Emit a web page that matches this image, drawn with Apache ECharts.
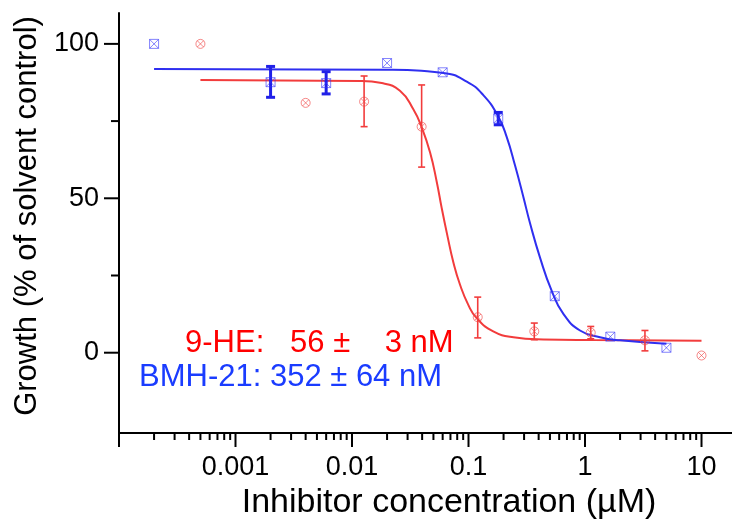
<!DOCTYPE html>
<html><head><meta charset="utf-8">
<script src="https://cdn.jsdelivr.net/npm/echarts@6/dist/echarts.min.js"></script>
<style>html,body{margin:0;padding:0;background:#fff}#c{width:732px;height:527px}</style>
</head><body><div id="c"></div>
<script>
// ---- data (concentration in µM, growth in % of solvent control) ----
const blueX = [0.0002, 0.002, 0.006, 0.02, 0.06, 0.18, 0.55, 1.65, 5];
const blueY = [100, 87.6, 87.3, 93.8, 90.8, 75.8, 18.3, 5.2, 1.6];
const blueErrX = [0.002, 0.006, 0.18];
const blueErrLo = [82.7, 83.8, 73.8];
const blueErrHi = [92.7, 91.0, 77.8];

const redX = [0.0005, 0.004, 0.0127, 0.0396, 0.12, 0.367, 1.12, 3.27, 10];
const redY = [100, 80.9, 81.3, 73.2, 11.5, 6.9, 6.5, 4.0, -0.9];
const redErrX = [0.0127, 0.0396, 0.12, 0.367, 1.12, 3.27];
const redErrLo = [73.2, 60.1, 4.8, 4.2, 4.5, 0.6];
const redErrHi = [89.6, 86.7, 18.0, 9.6, 8.5, 7.2];

// fitted curves
const blueFitX = [0.0002, 0.0199, 0.0608, 0.0966, 0.134, 0.180, 0.213, 0.251, 0.295, 0.337, 0.411, 0.518, 0.652, 0.906, 1.345, 1.995, 5.0];
const blueFitY = [91.9, 91.6, 90.6, 87.8, 83.4, 76.5, 69.8, 60.6, 50.6, 42.0, 30.8, 20.0, 12.6, 7.2, 5.0, 4.0, 2.9];
const redFitX = [0.0005, 0.0117, 0.018, 0.0258, 0.0336, 0.0396, 0.0468, 0.0534, 0.0589, 0.0658, 0.0741, 0.0846, 0.0996, 0.1175, 0.163, 0.243, 0.439, 1.17, 10];
const redFitY = [88.3, 88.0, 87.3, 84.8, 78.8, 73.0, 64.8, 55.3, 46.8, 38.0, 29.3, 22.0, 15.5, 11.2, 6.9, 5.0, 4.3, 4.1, 3.9];

// ticks
const xTickLabels = [0.001, 0.01, 0.1, 1, 10];
const xMajorTicks = [0.0001, 0.001, 0.01, 0.1, 1, 10];
const yTickLabels = [0, 50, 100];
const yMinorTicks = [25, 75];
const xMinorTicks = [];
for (let d = -4; d <= 0; d++) for (let k = 2; k <= 9; k++) {
  xMinorTicks.push(parseFloat((k * Math.pow(10, d)).toPrecision(6)));
}

// ---- layout ----
const gL = 119, gR = 0, gT = 13, gB = 94;
const xMin = 0.0001, xMax = 18.27, yMin = -26, yMax = 110;

const FONT = '"Liberation Sans", Arial, Helvetica, sans-serif';
const RED = '#f23c3c', BLUE = '#2f2ff0';
const RED_MK = 'rgba(240,70,70,0.8)', BLUE_MK = 'rgba(50,50,250,0.75)';
const axisCol = '#000';

const pairs = (xs, ys) => xs.map((x, i) => [x, ys[i]]);
const triples = (xs, lo, hi) => xs.map((x, i) => [x, lo[i], hi[i]]);

function errRender(capW, lw, color) {
  return function (params, api) {
    const x = api.value(0);
    const pLo = api.coord([x, api.value(1)]);
    const pHi = api.coord([x, api.value(2)]);
    const st = { stroke: color, lineWidth: lw };
    return { type: 'group', children: [
      { type: 'line', shape: { x1: pLo[0], y1: pLo[1], x2: pHi[0], y2: pHi[1] }, style: st },
      { type: 'line', shape: { x1: pHi[0] - capW / 2, y1: pHi[1], x2: pHi[0] + capW / 2, y2: pHi[1] }, style: st },
      { type: 'line', shape: { x1: pLo[0] - capW / 2, y1: pLo[1], x2: pLo[0] + capW / 2, y2: pLo[1] }, style: st }
    ]};
  };
}

const SQX = 'path://M0,0H10V10H0Z M0,0L10,10 M10,0L0,10';
const CIRX = 'path://M10,5A5,5,0,1,1,0,5A5,5,0,1,1,10,5Z M1.46,1.46L8.54,8.54 M8.54,1.46L1.46,8.54';

const chart = echarts.init(document.getElementById('c'), null, { renderer: 'canvas' });
chart.setOption({
  animation: false,
  grid: { left: gL, right: gR, top: gT, bottom: gB },
  xAxis: {
    type: 'log', logBase: 10, min: xMin, max: xMax,
    axisLine: { show: true, onZero: false, lineStyle: { color: axisCol, width: 2 } },
    axisTick: { show: false },
    axisLabel: { customValues: xTickLabels, formatter: v => String(v), fontSize: 27, color: '#000', fontFamily: FONT, margin: 21 },
    splitLine: { show: false },
    name: 'Inhibitor concentration (µM)', nameLocation: 'middle', nameGap: 52,
    nameTextStyle: { fontSize: 34, color: '#000', fontFamily: FONT, padding: [0, 0, 0, 47] }
  },
  yAxis: {
    type: 'value', min: yMin, max: yMax,
    axisLine: { show: true, onZero: false, lineStyle: { color: axisCol, width: 2 } },
    axisTick: { show: false },
    axisLabel: { customValues: yTickLabels, fontSize: 27, color: '#000', fontFamily: FONT, margin: 20 },
    splitLine: { show: false },
    name: 'Growth (% of solvent control)', nameLocation: 'middle', nameRotate: 90, nameGap: 74,
    nameTextStyle: { fontSize: 31, color: '#000', fontFamily: FONT, padding: [0, 0, 0, 14] }
  },
  series: [
    { type: 'line', name: '9-HE fit', data: pairs(redFitX, redFitY), showSymbol: false, smooth: 0.5, clip: false,
      lineStyle: { color: RED, width: 2 }, z: 2 },
    { type: 'line', name: 'BMH-21 fit', data: pairs(blueFitX, blueFitY), showSymbol: false, smooth: 0.5, clip: false,
      lineStyle: { color: BLUE, width: 2 }, z: 3 },
    { type: 'custom', name: '9-HE err', data: triples(redErrX, redErrLo, redErrHi), encode: { x: 0, y: [1, 2] },
      renderItem: errRender(7, 1.6, RED), clip: false, z: 4 },
    { type: 'custom', name: 'BMH-21 err', data: triples(blueErrX, blueErrLo, blueErrHi), encode: { x: 0, y: [1, 2] },
      renderItem: errRender(9, 3, '#2020e8'), clip: false, z: 4 },
    { type: 'scatter', name: '9-HE', data: pairs(redX, redY), symbol: CIRX, symbolSize: 9, clip: false,
      itemStyle: { color: 'rgba(0,0,0,0)', borderColor: RED_MK, borderWidth: 1 }, z: 5 },
    { type: 'scatter', name: 'BMH-21', data: pairs(blueX, blueY), symbol: SQX, symbolSize: 9, clip: false,
      itemStyle: { color: 'rgba(0,0,0,0)', borderColor: BLUE_MK, borderWidth: 1 }, z: 5 }
  ]
});

// annotations + axis ticks (ticks positioned through the chart's own axis scales)
const toPx = (x, y) => chart.convertToPixel({ xAxisIndex: 0, yAxisIndex: 0 }, [x, y]);
const els = [
  { type: 'text', z: 100, left: 185, top: 328, style: { text: '9-HE:   56 ±    3 nM', fill: '#ff0000', font: '31px ' + FONT } },
  { type: 'text', z: 100, left: 139, top: 362, style: { text: 'BMH-21: 352 ± 64 nM', fill: '#1a3cff', font: '31px ' + FONT } }
];
const vTick = (v, len) => { const p = toPx(v, yMin);
  els.push({ type: 'line', z: 100, shape: { x1: p[0], y1: p[1] - 1, x2: p[0], y2: p[1] + len }, style: { stroke: axisCol, lineWidth: 2 } }); };
const hTick = (v, len) => { const p = toPx(xMin, v);
  els.push({ type: 'line', z: 100, shape: { x1: p[0] + 1, y1: p[1], x2: p[0] - len, y2: p[1] }, style: { stroke: axisCol, lineWidth: 2 } }); };
xMajorTicks.forEach(v => vTick(v, 14));
xMinorTicks.forEach(v => vTick(v, 7));
yTickLabels.forEach(v => hTick(v, 15));
yMinorTicks.forEach(v => hTick(v, 8));
chart.setOption({ graphic: els });
</script></body></html>
